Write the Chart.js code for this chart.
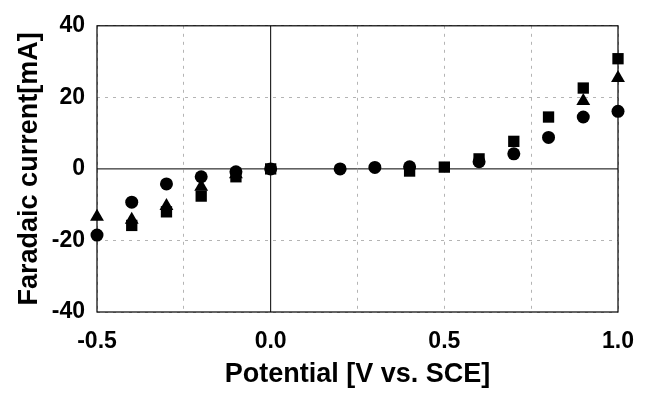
<!DOCTYPE html>
<html>
<head>
<meta charset="utf-8">
<script src="https://cdn.jsdelivr.net/npm/chart.js@4/dist/chart.umd.min.js"></script>
<style>
  html, body { margin: 0; padding: 0; background: #fff; }
  #wrap { width: 650px; height: 393px; position: relative; }
</style>
</head>
<body>
<div id="wrap"><canvas id="chart"></canvas></div>
<script>
// Data
const squareX = [-0.4, -0.3, -0.2, -0.1, 0.0, 0.4, 0.5, 0.6, 0.7, 0.8, 0.9, 1.0];
const squareY = [-15.8, -12.0, -7.6, -2.2, 0.0, -0.6, 0.5, 2.8, 7.7, 14.5, 22.6, 30.8];

const triangleX = [-0.5, -0.4, -0.3, -0.2, -0.1, 0.9, 1.0];
const triangleY = [-13.4, -14.2, -10.4, -5.0, -1.5, 19.0, 25.4];

const circleX = [-0.5, -0.4, -0.3, -0.2, -0.1, 0.0, 0.2, 0.3, 0.4, 0.6, 0.7, 0.8, 0.9, 1.0];
const circleY = [-18.5, -9.3, -4.2, -2.2, -0.8, 0.0, 0.0, 0.4, 0.6, 2.0, 4.2, 8.8, 14.5, 16.1];

const xTitle = 'Potential [V vs. SCE]';
const yTitle = 'Faradaic current[mA]';

function toPoints(xs, ys) {
  return xs.map((x, i) => ({ x: x, y: ys[i] }));
}

// frame around the plot and solid zero lines, drawn under the markers
const framePlugin = {
  id: 'frame',
  beforeDatasetsDraw(chart) {
    const { ctx, chartArea: a, scales } = chart;
    ctx.save();
    ctx.strokeStyle = '#000';
    ctx.lineWidth = 1.2;
    ctx.strokeRect(a.left, a.top, a.right - a.left, a.bottom - a.top);
    const x0 = scales.x.getPixelForValue(0);
    const y0 = scales.y.getPixelForValue(0);
    ctx.lineWidth = 1;
    ctx.beginPath();
    ctx.moveTo(x0, a.top);
    ctx.lineTo(x0, a.bottom);
    ctx.moveTo(a.left, y0);
    ctx.lineTo(a.right, y0);
    ctx.stroke();
    ctx.restore();
  }
};

const tickFont = { family: "'Liberation Sans', Arial, sans-serif", size: 23, weight: 'bold' };
const titleFont = { family: "'Liberation Sans', Arial, sans-serif", size: 27, weight: 'bold' };
const gridColor = (c) => (c.tick && c.tick.value === 0 ? 'rgba(0,0,0,0)' : '#b4b4b4');

const ctx = document.getElementById('chart').getContext('2d');
new Chart(ctx, {
  type: 'scatter',
  data: {
    datasets: [
      {
        label: 'circle',
        data: toPoints(circleX, circleY),
        pointStyle: 'circle',
        pointRadius: 6.5,
        backgroundColor: '#000',
        borderColor: '#000',
        borderWidth: 0,
        clip: false
      },
      {
        label: 'triangle',
        data: toPoints(triangleX, triangleY),
        pointStyle: 'triangle',
        pointRadius: 8,
        backgroundColor: '#000',
        borderColor: '#000',
        borderWidth: 0,
        clip: false
      },
      {
        label: 'square',
        data: toPoints(squareX, squareY),
        pointStyle: 'rect',
        pointRadius: 8,
        backgroundColor: '#000',
        borderColor: '#000',
        borderWidth: 0,
        clip: false
      }
    ]
  },
  options: {
    responsive: true,
    maintainAspectRatio: false,
    animation: false,
    layout: { padding: { top: 18, right: 32, left: 0, bottom: 0 } },
    plugins: {
      legend: { display: false },
      tooltip: { enabled: false }
    },
    scales: {
      x: {
        type: 'linear',
        min: -0.5,
        max: 1.0,
        afterFit(scale) { scale.height = 81; },
        ticks: {
          stepSize: 0.25,
          padding: 16,
          maxRotation: 0,
          color: '#000',
          font: tickFont,
          callback: (v) => (Math.abs(v * 2 - Math.round(v * 2)) < 1e-9 ? v.toFixed(1) : '')
        },
        grid: {
          drawTicks: false,
          color: gridColor,
          lineWidth: 1
        },
        border: { display: false, dash: [3, 5] },
        title: {
          display: true,
          text: xTitle,
          color: '#000',
          font: titleFont,
          padding: { top: 0, bottom: 2 }
        }
      },
      y: {
        type: 'linear',
        min: -40,
        max: 40,
        afterFit(scale) { scale.width = 97; },
        ticks: {
          stepSize: 20,
          padding: 12,
          color: '#000',
          font: tickFont
        },
        grid: {
          drawTicks: false,
          color: gridColor,
          lineWidth: 1
        },
        border: { display: false, dash: [3, 5] },
        title: {
          display: true,
          text: yTitle,
          color: '#000',
          font: titleFont,
          padding: { top: 13, bottom: 0 }
        }
      }
    }
  },
  plugins: [framePlugin]
});
</script>
</body>
</html>
